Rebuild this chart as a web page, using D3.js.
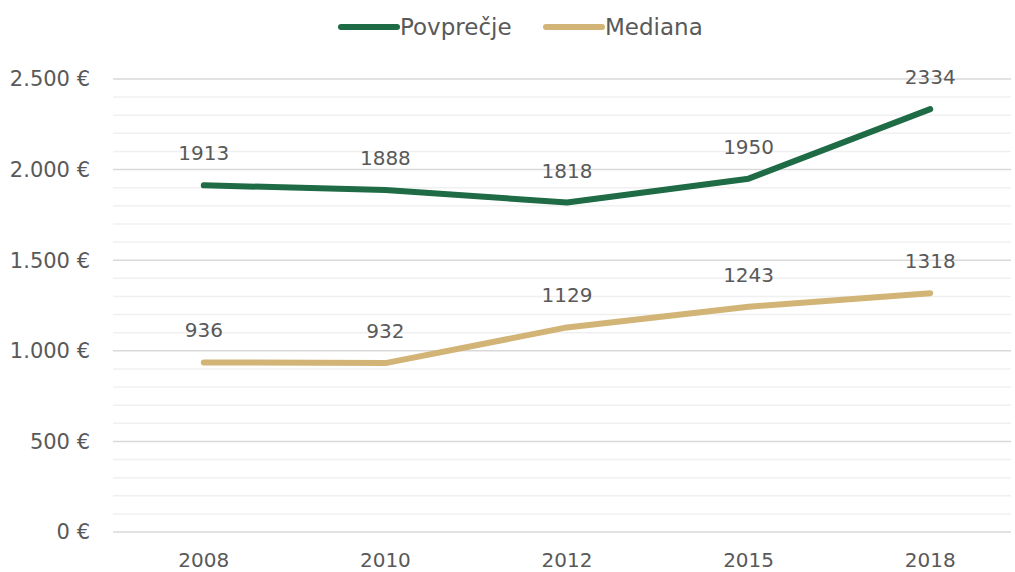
<!DOCTYPE html>
<html>
<head>
<meta charset="utf-8">
<script src="https://cdn.jsdelivr.net/npm/d3@7"></script>
<style>
  body { margin: 0; background: #fff; }
  svg text { font-family: "DejaVu Sans", sans-serif; fill: #595959; }
</style>
</head>
<body>
<div id="chart"></div>
<script>
// chart data
var years = ["2008", "2010", "2012", "2015", "2018"];
var povprecje = [1913, 1888, 1818, 1950, 2334];
var mediana = [936, 932, 1129, 1243, 1318];
var yTicks = [0, 500, 1000, 1500, 2000, 2500];

var width = 1015, height = 572;
var plotLeft = 113, plotRight = 1011, plotTop = 79, plotBottom = 532;

var svg = d3.select("#chart")
    .append("svg")
    .attr("width", width)
    .attr("height", height);

var x = d3.scalePoint()
    .domain(years)
    .range([plotLeft, plotRight + 10])
    .padding(0.5);

var y = d3.scaleLinear()
    .domain([0, 2500])
    .range([plotBottom, plotTop]);

// minor gridlines every 100
svg.append("g")
    .selectAll("line")
    .data(d3.range(100, 2500, 100).filter(function(d) { return d % 500 != 0; }))
    .enter()
    .append("line")
    .attr("x1", plotLeft).attr("x2", plotRight)
    .attr("y1", function(d) { return y(d); })
    .attr("y2", function(d) { return y(d); })
    .style("stroke", "#f0f0f0")
    .style("stroke-width", 1.5);

// major gridlines
svg.append("g")
    .selectAll("line")
    .data(yTicks)
    .enter()
    .append("line")
    .attr("x1", plotLeft).attr("x2", plotRight)
    .attr("y1", function(d) { return y(d); })
    .attr("y2", function(d) { return y(d); })
    .style("stroke", "#d9d9d9")
    .style("stroke-width", 1.5);

// y axis labels
var fmt = function(d) { return d3.format(",")(d).replace(/,/g, ".") + " €"; };
svg.append("g")
    .selectAll("text")
    .data(yTicks)
    .enter()
    .append("text")
    .attr("x", 90)
    .attr("y", function(d) { return y(d); })
    .attr("dy", "0.35em")
    .attr("text-anchor", "end")
    .style("font-size", "21px")
    .text(fmt);

// x axis labels
svg.append("g")
    .selectAll("text")
    .data(years)
    .enter()
    .append("text")
    .attr("x", function(d) { return x(d); })
    .attr("y", 567)
    .attr("text-anchor", "middle")
    .style("font-size", "20px")
    .text(function(d) { return d; });

var series = [
    {name: "Povprečje", values: povprecje, color: "#1e6b45"},
    {name: "Mediana", values: mediana, color: "#d2b477"}
];

var line = d3.line()
    .x(function(d, i) { return x(years[i]); })
    .y(function(d) { return y(d); });

series.forEach(function(s) {
    svg.append("path")
        .datum(s.values)
        .attr("d", line)
        .style("fill", "none")
        .style("stroke", s.color)
        .style("stroke-width", 6)
        .style("stroke-linecap", "round")
        .style("stroke-linejoin", "round");

    svg.append("g")
        .selectAll("text")
        .data(s.values)
        .enter()
        .append("text")
        .attr("x", function(d, i) { return x(years[i]); })
        .attr("y", function(d) { return y(d) - 25; })
        .attr("text-anchor", "middle")
        .style("font-size", "20px")
        .text(function(d) { return d; });
});

// legend
var legend = svg.append("g");
var legendX = [341, 546];
series.forEach(function(s, i) {
    legend.append("line")
        .attr("x1", legendX[i]).attr("x2", legendX[i] + 56)
        .attr("y1", 27).attr("y2", 27)
        .style("stroke", s.color)
        .style("stroke-width", 6)
        .style("stroke-linecap", "round");
    legend.append("text")
        .attr("x", legendX[i] + 59)
        .attr("y", 27)
        .attr("dy", "0.35em")
        .style("font-size", "23px")
        .text(s.name);
});
</script>
</body>
</html>
